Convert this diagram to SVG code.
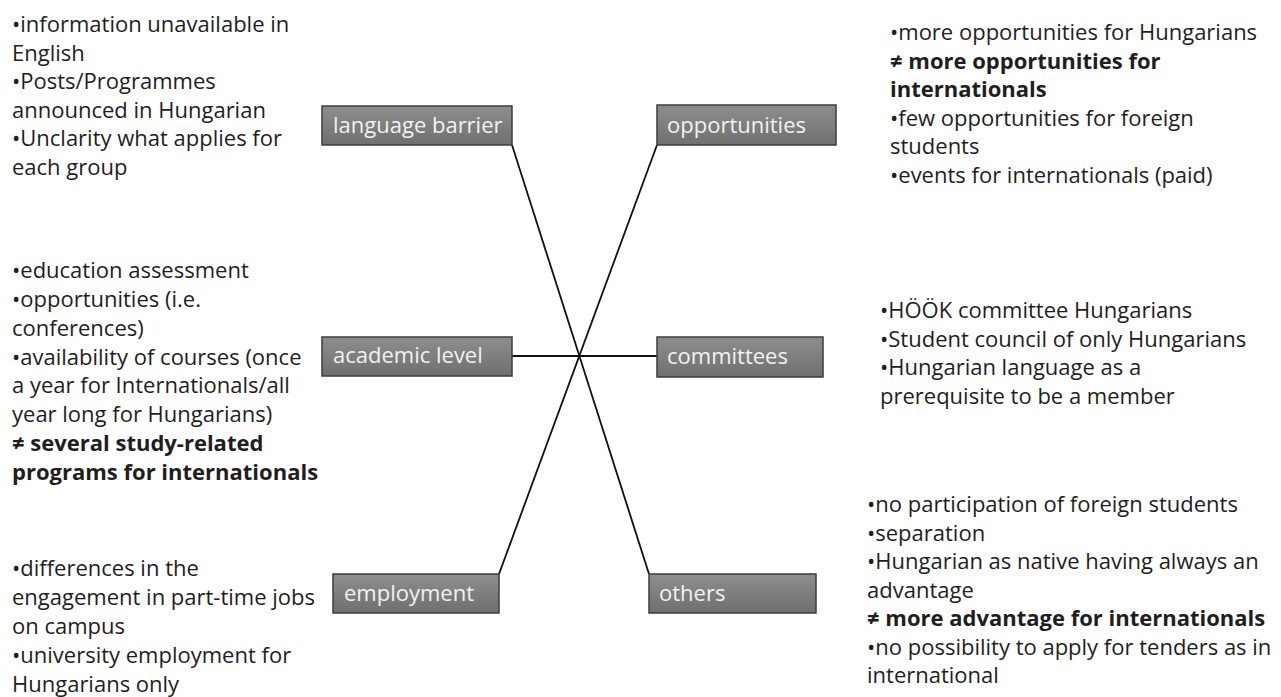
<svg xmlns="http://www.w3.org/2000/svg" width="1281" height="697" viewBox="0 0 1281 697">
<defs>
<linearGradient id="boxfill" x1="0" y1="0" x2="0" y2="1">
<stop offset="0" stop-color="#8e8e8e"/>
<stop offset="1" stop-color="#6f6f6f"/>
</linearGradient>
</defs>
<style>
.box{fill:url(#boxfill);stroke:#3c3c3c;stroke-width:1.5}
.lbl{font-family:"Open Sans","Liberation Sans",sans-serif;font-size:22px;fill:#f2f2f2}
.txt{font-family:"Open Sans","Liberation Sans",sans-serif;font-size:22px;fill:#1e1e1e}
.b{font-weight:bold}
.conn{stroke:#111;stroke-width:1.8;fill:none}
</style>
<rect width="1281" height="697" fill="#ffffff"/>
<g id="connectors">
<line class="conn" x1="512" y1="145" x2="649" y2="574"/>
<line class="conn" x1="657" y1="145" x2="499" y2="574"/>
<line class="conn" x1="512" y1="356" x2="657" y2="356"/>
</g>
<g id="language-barrier">
<rect class="box" x="322" y="106" width="190" height="39"/>
<text class="lbl" x="333" y="133">language barrier</text>
<text class="txt" x="12" y="32">•information unavailable in</text>
<text class="txt" x="12" y="60.6">English</text>
<text class="txt" x="12" y="89.2">•Posts/Programmes</text>
<text class="txt" x="12" y="117.8">announced in Hungarian</text>
<text class="txt" x="12" y="146.4">•Unclarity what applies for</text>
<text class="txt" x="12" y="175">each group</text>
</g>
<g id="opportunities">
<rect class="box" x="657" y="105" width="179" height="40"/>
<text class="lbl" x="667" y="133">opportunities</text>
<text class="txt" x="890" y="40">•more opportunities for Hungarians</text>
<text class="txt b" x="890" y="68.6">≠ more opportunities for</text>
<text class="txt b" x="890" y="97.2">internationals</text>
<text class="txt" x="890" y="125.8">•few opportunities for foreign</text>
<text class="txt" x="890" y="154.4">students</text>
<text class="txt" x="890" y="183">•events for internationals (paid)</text>
</g>
<g id="academic-level">
<rect class="box" x="322" y="337" width="190" height="39"/>
<text class="lbl" x="333" y="363">academic level</text>
<text class="txt" x="12" y="278">•education assessment</text>
<text class="txt" x="12" y="306.9">•opportunities (i.e.</text>
<text class="txt" x="12" y="335.7">conferences)</text>
<text class="txt" x="12" y="364.6">•availability of courses (once</text>
<text class="txt" x="12" y="393.4">a year for Internationals/all</text>
<text class="txt" x="12" y="422.3">year long for Hungarians)</text>
<text class="txt b" x="12" y="451.1">≠ several study-related</text>
<text class="txt b" x="12" y="480">programs for internationals</text>
</g>
<g id="committees">
<rect class="box" x="657" y="337" width="166" height="40"/>
<text class="lbl" x="667" y="364">committees</text>
<text class="txt" x="880" y="318">•HÖÖK committee Hungarians</text>
<text class="txt" x="880" y="346.7">•Student council of only Hungarians</text>
<text class="txt" x="880" y="375.3">•Hungarian language as a</text>
<text class="txt" x="880" y="404">prerequisite to be a member</text>
</g>
<g id="employment">
<rect class="box" x="333" y="574" width="166" height="39"/>
<text class="lbl" x="344" y="601">employment</text>
<text class="txt" x="12" y="576">•differences in the</text>
<text class="txt" x="12" y="605">engagement in part-time jobs</text>
<text class="txt" x="12" y="634">on campus</text>
<text class="txt" x="12" y="663">•university employment for</text>
<text class="txt" x="12" y="692">Hungarians only</text>
</g>
<g id="others">
<rect class="box" x="649" y="574" width="167" height="39"/>
<text class="lbl" x="659" y="601">others</text>
<text class="txt" x="867" y="512">•no participation of foreign students</text>
<text class="txt" x="867" y="540.5">•separation</text>
<text class="txt" x="867" y="569">•Hungarian as native having always an</text>
<text class="txt" x="867" y="597.5">advantage</text>
<text class="txt b" x="867" y="626">≠ more advantage for internationals</text>
<text class="txt" x="867" y="654.5">•no possibility to apply for tenders as in</text>
<text class="txt" x="867" y="683">international</text>
</g>
</svg>
